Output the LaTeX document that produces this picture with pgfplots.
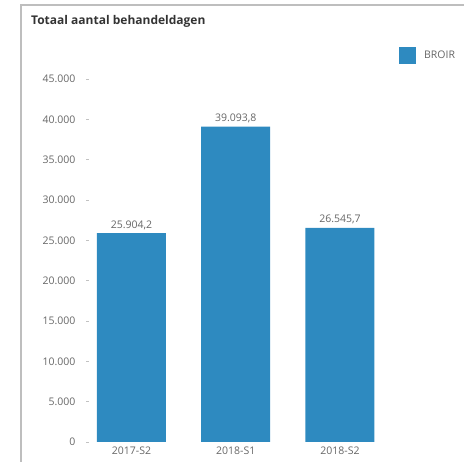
\documentclass[border=0pt]{standalone}
\usepackage{pgfplots}
\pgfplotsset{compat=1.18}
\usepackage{fontspec}
\setmainfont{Open Sans}
\definecolor{barblue}{RGB}{46,138,192}
\definecolor{ticktext}{RGB}{102,102,102}
\definecolor{titletext}{RGB}{51,51,51}
\definecolor{framegray}{RGB}{190,190,190}
\begin{document}
\begin{tikzpicture}
\useasboundingbox (0,0) rectangle (464pt,462pt);
\draw[framegray, line width=1.5pt] (21pt,0) -- (21pt,457pt) -- (464pt,457pt);
\node[anchor=west, inner sep=0, font=\fontsize{12}{14}\selectfont\bfseries, text=titletext] at (31pt,441pt) {Totaal aantal behandeldagen};
\begin{axis}[
  at={(88pt,20pt)}, anchor=south west,
  scale only axis, width=304pt, height=363pt,
  xmin=-0.417, xmax=2.499, ymin=0, ymax=45000,
  axis x line*=bottom, axis y line*=left,
  axis line style={draw=none},
  clip=false,
  ybar, bar width=69pt,
  xtick={0,1,2}, xticklabels={2017-S2,2018-S1,2018-S2},
  ytick={0,5000,...,45000},
  major tick length=0pt,
  ticklabel style={font=\fontsize{10.5}{12}\selectfont, text=ticktext},
  /pgf/number format/assume math mode=true,
  yticklabel style={/pgf/number format/use comma, /pgf/number format/1000 sep={.}, /pgf/number format/fixed, xshift=-9pt},
  scaled y ticks=false,
  xticklabel style={yshift=-1pt},
  nodes near coords,
  nodes near coords style={font=\fontsize{10.5}{12}\selectfont, text=ticktext, /pgf/number format/use comma, /pgf/number format/1000 sep={.}, /pgf/number format/fixed, /pgf/number format/fixed zerofill, /pgf/number format/precision=1},
  legend style={at={(1.023,1.065)}, anchor=west, draw=none, fill=none, inner sep=0pt, font=\fontsize{10.5}{12}\selectfont, text=ticktext, legend cell align=left},
  legend image code/.code={\fill[barblue] (0pt,-8.5pt) rectangle (17pt,8.5pt);},
]
\addplot[fill=barblue, draw=none] coordinates {(0,25904.2) (1,39093.8) (2,26545.7)};
\legend{\hspace{6pt}BROIR}
\end{axis}
\foreach \v in {0,...,9} {
  \draw[ticktext!40, line width=0.5pt] (86pt,20pt+\v*40.333pt) -- (89pt,20pt+\v*40.333pt);
}
\end{tikzpicture}
\end{document}
